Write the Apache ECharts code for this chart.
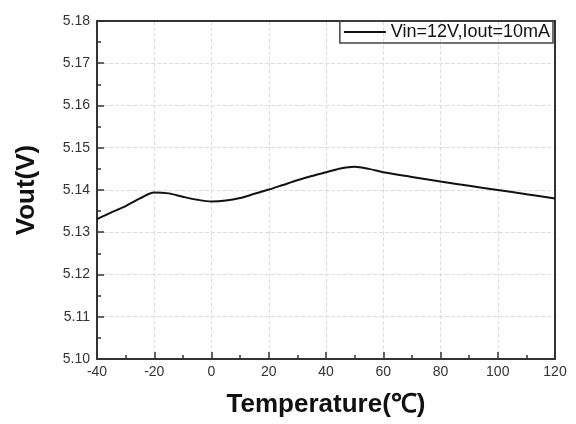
<!DOCTYPE html>
<html><head><meta charset="utf-8">
<script src="https://cdn.jsdelivr.net/npm/echarts@6/dist/echarts.min.js"></script>
<style>html,body{margin:0;padding:0;background:#fff}#c{width:576px;height:424px}</style>
</head><body><div id="c"></div>
<script>
const temps = [-40,-35,-30,-25,-20,-15,-10,-5,0,5,10,15,20,25,30,35,40,45,50,55,60,70,80,90,100,110,120];
const vout  = [5.1331,5.1347,5.1362,5.1380,5.1394,5.1392,5.1384,5.1377,5.1373,5.1375,5.1381,5.1391,5.1401,5.1412,5.1423,5.1433,5.1442,5.1451,5.1455,5.1450,5.1442,5.1431,5.1420,5.1410,5.1400,5.1390,5.1380];
const seriesName = 'Vin=12V,Iout=10mA';
const xTitle = 'Temperature(℃)';
const yTitle = 'Vout(V)';

const chart = echarts.init(document.getElementById('c'), null, {renderer:'canvas'});
const axisCol = '#333';
const ff = '"Liberation Sans", Arial, sans-serif';
chart.setOption({
  animation:false,
  backgroundColor:'#fff',
  grid:{left:97,right:21,top:21,bottom:65},
  legend:{
    data:[{name:seriesName, icon:'rect'}], right:23, top:21, itemWidth:42, itemHeight:2, itemGap:4,
    padding:[2,3,2,4], borderColor:'#444', borderWidth:1.5, borderRadius:0,
    textStyle:{fontFamily:ff, fontSize:18, color:'#111'}
  },
  xAxis:[{
    type:'value', min:-40, max:120, interval:20,
    name:xTitle, nameLocation:'middle', nameGap:33,
    nameTextStyle:{fontFamily:ff, fontSize:26, fontWeight:'bold', color:'#111'},
    axisLine:{show:true,onZero:false,lineStyle:{color:axisCol,width:2}},
    axisTick:{show:true,inside:true,length:7,lineStyle:{color:axisCol,width:1.5}},
    minorTick:{show:true,splitNumber:2,length:4,lineStyle:{color:axisCol,width:1.5}},
    axisLabel:{fontFamily:ff,fontSize:14,color:'#333',margin:6},
    splitLine:{show:true,lineStyle:{color:'#ddd',width:1,type:'dashed'}}
  },{
    type:'value', min:-40, max:120, position:'top',
    axisLine:{show:true,onZero:false,lineStyle:{color:axisCol,width:2}},
    axisTick:{show:false}, axisLabel:{show:false}, splitLine:{show:false}
  }],
  yAxis:[{
    type:'value', min:5.10, max:5.18, interval:0.01,
    name:yTitle, nameLocation:'middle', nameGap:57,
    nameTextStyle:{fontFamily:ff, fontSize:26, fontWeight:'bold', color:'#111'},
    axisLine:{show:true,onZero:false,lineStyle:{color:axisCol,width:2}},
    axisTick:{show:true,inside:true,length:7,lineStyle:{color:axisCol,width:1.5}},
    minorTick:{show:true,splitNumber:2,length:4,lineStyle:{color:axisCol,width:1.5}},
    axisLabel:{fontFamily:ff,fontSize:14,color:'#333',margin:7,
      formatter:v=>v.toFixed(2)},
    splitLine:{show:true,lineStyle:{color:'#ddd',width:1,type:'dashed'}}
  },{
    type:'value', min:5.10, max:5.18, position:'right',
    axisLine:{show:true,onZero:false,lineStyle:{color:axisCol,width:2}},
    axisTick:{show:false}, axisLabel:{show:false}, splitLine:{show:false}
  }],
  series:[{
    name:seriesName, type:'line', smooth:0.3, symbol:'none',
    data:temps.map((t,i)=>[t,vout[i]]),
    lineStyle:{color:'#111',width:2}, itemStyle:{color:'#111'}
  }]
});
</script></body></html>
